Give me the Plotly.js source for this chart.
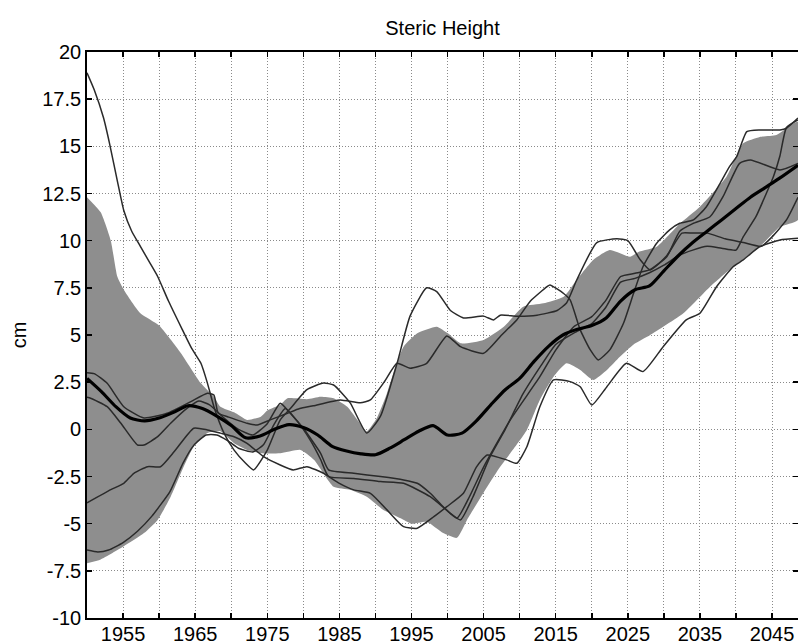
<!DOCTYPE html>
<html>
<head>
<meta charset="utf-8">
<script src="https://cdn.plot.ly/plotly-3.0.1.min.js"></script>
<style>
html,body{margin:0;padding:0;background:#fff;}
#chart{width:798px;height:644px;}
</style>
</head>
<body>
<div id="chart"></div>
<script>
// ---- Data ----
var bandUpYears = [1950,1950.5,1951.9,1953.3,1954.2,1955.1,1957.4,1960,1963,1965.8,1967.6,1968.5,1970.4,1972.2,1974.1,1975,1976.8,1977.8,1980.5,1982.4,1984.2,1986.1,1987.5,1988.8,1990.2,1991.5,1992.5,1993.9,1995.8,1998.5,2000,2001.8,2005,2007.8,2010.5,2013.3,2016.1,2017.9,2020.2,2022.5,2025.3,2026.6,2029,2032.2,2035,2038.7,2041,2043.3,2045.6,2047.9,2048.6];
var bandUpVals  = [12.3,12.1,11.5,10.0,8.1,7.4,6.15,5.5,4.05,2.44,1.73,1.2,0.9,0.5,0.67,1.0,1.3,1.65,1.6,1.73,1.65,1.2,0.5,-0.1,0.6,1.8,3.0,4.38,5.09,5.44,5.1,4.56,4.74,5.44,6.5,6.68,7.03,7.92,8.98,9.5,9.15,9.42,9.68,10.9,11.8,13.4,15.16,15.5,15.6,16.2,16.3];

var bandLoYears = [1950,1951.9,1955.1,1957.9,1959.8,1961.6,1963.4,1964.8,1966.7,1968.5,1970.4,1972.2,1974.1,1976.8,1979.6,1981.5,1984.2,1986.5,1988.8,1991.1,1993.5,1995,1997.1,1999.4,2001.3,2002.7,2005.5,2007.3,2008.7,2011,2012.8,2014.7,2016.5,2018.4,2020.2,2022.1,2023.9,2025.8,2028.1,2032.7,2036.4,2039.6,2043.3,2046.1,2048.6];
var bandLoVals  = [-7.1,-6.9,-6.2,-5.5,-4.8,-3.57,-1.98,-0.92,-0.2,-0.1,-0.74,-1.09,-1.27,-1.27,-1.09,-1.62,-3.04,-3.2,-3.57,-4.27,-4.71,-5.0,-4.9,-5.5,-5.75,-4.8,-3.04,-1.98,-1.27,-0.03,1.56,2.79,3.5,3.15,2.62,3.15,3.85,4.5,5.0,6.15,7.56,8.62,9.68,10.74,11.1];

var meanYears = [1950,1952,1954,1956,1958,1960,1962,1964,1966,1968,1970,1972,1974,1976,1978,1980,1982,1984,1986,1988,1990,1992,1994,1996,1998,2000,2002,2004,2006,2008,2010,2012,2014,2016,2018,2020,2022,2024,2026,2028,2030,2032,2034,2036,2038,2040,2042,2044,2046,2048.6];
var meanVals  = [2.7,2.0,1.2,0.6,0.45,0.6,0.9,1.25,1.1,0.7,0.2,-0.45,-0.35,0.0,0.25,0.1,-0.3,-0.9,-1.15,-1.3,-1.35,-1.0,-0.55,-0.1,0.2,-0.3,-0.2,0.45,1.3,2.1,2.7,3.6,4.4,5.0,5.3,5.5,5.9,6.8,7.4,7.6,8.4,9.2,9.9,10.5,11.1,11.7,12.3,12.8,13.3,14.0];

var run1Years = [1950,1951,1952.3,1953.1,1954.3,1955.1,1956.2,1957.4,1958.6,1959.8,1961.3,1963.2,1964.5,1965.8,1966.7,1967.6,1969,1970.4,1972,1973.1,1975,1976.8,1978.2,1980.5,1982.8,1984.2,1986.5,1988.8,1990.7,1993,1994.8,1997.1,1998.5,2000.4,2002.2,2005,2006.4,2007.3,2009.6,2012.4,2015.2,2016.5,2017.9,2020.7,2023.5,2025,2026.7,2028.1,2030.4,2032.5,2034,2036,2038.5,2041,2043.5,2045,2047,2048.6];
var run1Vals  = [18.9,18.0,16.5,15.2,13.0,11.6,10.5,9.7,8.9,8.1,6.8,5.3,4.3,3.5,2.45,1.2,-0.2,-1.1,-1.8,-2.15,-1.1,0.5,1.1,2.1,2.45,2.35,1.4,-0.2,0.7,3.5,6.0,7.5,7.3,6.3,5.9,6.0,5.8,6.05,6.0,6.05,6.3,6.7,7.9,9.9,10.1,10.0,9.0,8.45,9.2,10.4,10.4,10.4,10.1,9.9,9.7,10.2,11.1,12.3];

var run2Years = [1950,1951,1952.8,1955.1,1957.9,1961.1,1964.4,1966.7,1967.6,1968.2,1969.5,1972.2,1973.6,1975.4,1977.8,1979.5,1981.4,1985.1,1987.9,1989.3,1991.2,1993,1994.8,1997.1,1999.9,2001.8,2005,2007.5,2009.6,2011.5,2013.8,2014.2,2016.1,2017,2018.4,2019.8,2020.9,2022.5,2024.4,2025.8,2027.1,2029,2030.8,2032.2,2034.1,2035.9,2037.8,2039.1,2040.1,2041.5,2043.4,2046.1,2047,2048.6];
var run2Vals  = [3.0,2.95,2.44,1.2,0.6,0.85,1.47,1.91,1.82,0.85,0.67,0.32,0.23,0.5,0.85,1.1,1.25,1.56,1.41,1.56,2.5,3.5,3.24,3.5,4.95,4.38,4.03,5.0,5.8,6.8,7.56,7.65,7.2,6.86,5.27,4.21,3.68,4.21,5.62,7.21,8.62,9.86,10.57,10.92,11.1,11.8,13.04,13.92,14.45,15.78,15.87,15.87,15.96,16.5];

var run3Years = [1950,1950.5,1952.8,1954.7,1957,1957.9,1959.8,1961.6,1963.9,1965.5,1967,1969,1971,1973,1975,1976.8,1978.2,1980.1,1982.4,1983.5,1987,1990.7,1993.9,1995.8,1997.6,1999.4,2001.3,2003,2005,2008.7,2012.8,2015,2017.5,2020,2022,2024,2026,2028,2030.4,2032.2,2034,2036.4,2038.2,2040.5,2042,2046.1,2048.6];
var run3Vals  = [1.7,1.65,1.2,0.32,-0.83,-0.83,-0.39,0.32,1.12,1.5,1.3,0.6,0.0,-0.3,0.3,1.38,0.85,0.0,-1.27,-2.15,-2.33,-2.5,-2.68,-2.86,-3.39,-4.1,-4.71,-3.6,-2.0,0.5,2.79,4.2,5.44,5.97,6.86,8.1,8.27,8.45,9.15,10.5,10.9,11.27,12.33,14.1,14.28,13.75,14.1];

var run4Years = [1950,1951.5,1953,1955,1957,1959,1961.5,1963.3,1964.8,1966.5,1968,1969.5,1971,1973,1974.5,1976,1977.5,1979,1981,1982.4,1983.5,1987,1990.7,1993.9,1997.6,2000.4,2001.8,2003.5,2005.9,2008,2010.5,2013,2015,2017.5,2020,2022,2024,2026,2028,2030,2032,2034,2036,2038,2040,2041,2042.8,2044.2,2045.2,2046.1,2047,2048.6];
var run4Vals  = [-6.4,-6.5,-6.4,-6.0,-5.4,-4.6,-3.3,-1.8,-0.85,-0.3,-0.3,-0.6,-1.0,-1.2,-0.8,0.3,1.1,0.5,-0.6,-1.6,-2.5,-2.6,-2.77,-2.86,-3.57,-4.45,-4.8,-3.6,-1.45,0.0,1.9,3.4,4.5,5.1,5.6,6.5,7.8,8.0,8.3,8.7,9.2,9.5,9.7,9.6,9.5,10.2,11.3,12.5,13.4,14.5,16.0,16.4];

var run5Years = [1950,1953.3,1955.1,1956.5,1958.4,1960.2,1962.1,1964.8,1966.7,1968.5,1970.4,1972.2,1974.5,1976.8,1978.6,1980.5,1982.8,1985,1987,1989.3,1991.6,1993.9,1995.8,1998.1,1999.9,2002.2,2004,2005.5,2008.2,2009.6,2011,2012.8,2014.7,2017,2018.4,2020,2022.1,2024.8,2027.1,2029.9,2033.1,2035,2037.3,2039.6,2041,2043.3,2046.1,2048.6];
var run5Vals  = [-3.9,-3.2,-2.86,-2.33,-1.98,-1.98,-1.18,0.06,-0.03,-0.2,-0.39,-0.74,-1.45,-1.89,-2.15,-1.98,-2.33,-2.86,-3.21,-3.39,-4.27,-5.16,-5.24,-4.63,-4.1,-3.39,-2.0,-1.36,-1.62,-1.8,-0.92,1.2,2.62,2.53,2.26,1.29,2.26,3.5,3.06,4.38,5.8,6.15,7.56,8.62,8.98,9.68,10.04,10.13];

var xTickVals  = [1950,1955,1960,1965,1970,1975,1980,1985,1990,1995,2000,2005,2010,2015,2020,2025,2030,2035,2040,2045];
var xTickText  = ['','1955','','1965','','1975','','1985','','1995','','2005','','2015','','2025','','2035','','2045'];
var yTickVals  = [-10,-7.5,-5,-2.5,0,2.5,5,7.5,10,12.5,15,17.5,20];
var yTickText  = ['-10','-7.5','-5','-2.5','0','2.5','5','7.5','10','12.5','15','17.5','20'];

// ---- Traces ----
var bandX = bandUpYears.concat(bandLoYears.slice().reverse());
var bandY = bandUpVals.concat(bandLoVals.slice().reverse());

var traces = [{
  x: bandX, y: bandY, type: 'scatter', mode: 'lines',
  fill: 'toself', fillcolor: '#8e8e8e',
  line: {width: 0, color: '#8e8e8e', shape: 'spline', smoothing: 0.5},
  hoverinfo: 'skip', showlegend: false
}];

var runs = [[run1Years, run1Vals],[run2Years, run2Vals],[run3Years, run3Vals],[run4Years, run4Vals],[run5Years, run5Vals]];
runs.forEach(function(r){
  traces.push({
    x: r[0], y: r[1], type: 'scatter', mode: 'lines',
    line: {color: '#2a2a2a', width: 1.5, shape: 'spline', smoothing: 0.5},
    hoverinfo: 'skip', showlegend: false
  });
});
traces.push({
  x: meanYears, y: meanVals, type: 'scatter', mode: 'lines',
  line: {color: '#000000', width: 3.2, shape: 'spline', smoothing: 0.7},
  hoverinfo: 'skip', showlegend: false
});

var fontFam = '"Liberation Sans", Arial, Helvetica, sans-serif';
var axisCommon = {
  showline: true, linecolor: '#000', linewidth: 1.8, mirror: 'ticks',
  ticks: 'inside', ticklen: 5, tickwidth: 1.5, tickcolor: '#000',
  showgrid: true, gridcolor: '#8a8a8a', griddash: '1px,2px', gridwidth: 1,
  zeroline: false, tickfont: {family: fontFam, size: 20, color: '#000'},
  tickmode: 'array', fixedrange: true
};

var layout = {
  width: 798, height: 644,
  margin: {l: 87, r: 0, t: 52, b: 26, pad: 0},
  paper_bgcolor: '#fff', plot_bgcolor: '#fff',
  showlegend: false, hovermode: false,
  title: {text: 'Steric Height', font: {family: fontFam, size: 20, color: '#000'},
          x: 0.5, xanchor: 'center', xref: 'paper', y: 0.957, yanchor: 'middle'},
  xaxis: Object.assign({}, axisCommon, {
    range: [1950, 2048.6], tickvals: xTickVals, ticktext: xTickText,
    ticklabelstandoff: -3
  }),
  yaxis: Object.assign({}, axisCommon, {
    range: [-10, 20], tickvals: yTickVals, ticktext: yTickText,
    title: {text: 'cm', font: {family: fontFam, size: 20, color: '#000'}, standoff: 10}
  })
};

Plotly.newPlot('chart', traces, layout, {displayModeBar: false, staticPlot: true});
</script>
</body>
</html>
